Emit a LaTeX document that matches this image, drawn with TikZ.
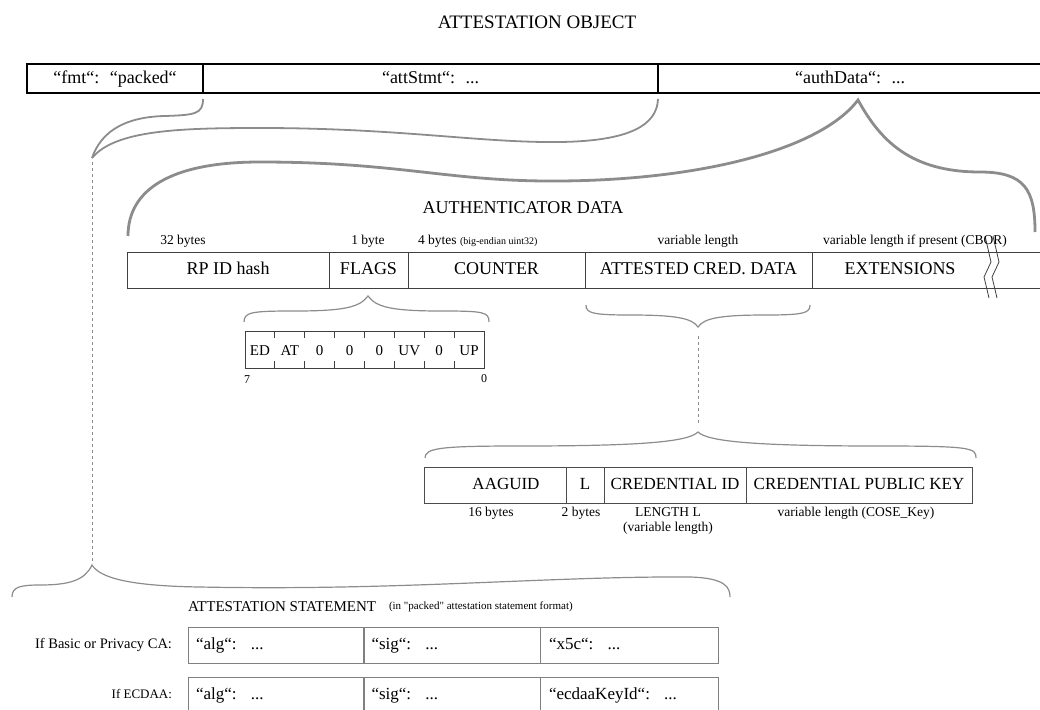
\documentclass[tikz,border=0pt]{standalone}
\usepackage{fontspec}
\setmainfont{Liberation Serif}
\usetikzlibrary{positioning}

\begin{document}
\begin{tikzpicture}[x=1pt,y=-1pt]
    \tikzstyle{every node} = [font=\fontsize{18}{21}\selectfont, inner sep=0pt, outer sep=0pt]
    \tikzstyle{objcell} = [draw=black, line width=1.6pt, rectangle, anchor=north west, minimum height=29pt, text height=12.5pt, text depth=3.5pt]
    \tikzstyle{datacell} = [draw=black!75, line width=1pt, rectangle, anchor=north west, minimum height=36pt, text height=12.5pt, text depth=3.5pt]
    \tikzstyle{credcell} = [draw=black!70, line width=0.8pt, rectangle, anchor=north west, minimum height=36pt, text height=12pt, text depth=3.5pt, font=\fontsize{17}{20}\selectfont]
    \tikzstyle{stmtcell} = [draw=black!50, line width=0.8pt, rectangle, anchor=north west, minimum height=36pt, text width=160pt, inner xsep=8pt, align=left, text height=12pt, text depth=4pt, font=\fontsize{17}{20}\selectfont]
    \tikzstyle{brace} = [draw=black!45, line width=1.4pt]
    \tikzstyle{small} = [font=\fontsize{13.5}{16}\selectfont]
    \tikzstyle{lead} = [draw=black!45, dashed, line width=0.8pt]
    \clip (0,0) rectangle (1040,709);

    % attestation object
    \node[font=\fontsize{19}{22}\selectfont] (objTitle) at (537,22) {ATTESTATION OBJECT};
    \node[objcell, minimum width=176pt] (fmt) at (27,64) {“fmt“: \ “packed“};
    \node[objcell, minimum width=455pt] (attStmt) at (203,64) {“attStmt“: \ ...};
    \node[objcell, minimum width=384pt] (authData) at (658,64) {“authData“: \ ...};

    \coordinate (stmtTip) at (92,158);
    \coordinate (authTip) at (858,100);
    \draw[brace, line width=1.8pt] ([yshift=-6pt]fmt.south east) .. controls +(0,15) and (195,115) .. (165,116)
        .. controls (120,117) and (100,135) .. (stmtTip);
    \draw[brace, line width=1.8pt] (stmtTip) .. controls (115,130) and (180,128) .. (260,128)
        .. controls (400,128) and (480,143) .. (560,142)
        .. controls (630,141) and (657,125) .. ([yshift=-6pt]attStmt.south east);
    \draw[brace, line width=2.8pt] (128,236) .. controls (128,190) and (170,162) .. (260,162)
        .. controls (400,162) and (450,182) .. (560,181)
        .. controls (700,180) and (820,150) .. (authTip)
        .. controls (880,140) and (910,172) .. (980,172)
        .. controls (1025,172) and (1035,190) .. (1035,232);

    % authenticator data
    \node (authTitle) at (523,208) {AUTHENTICATOR DATA};
    \node[datacell, minimum width=202pt] (rpHash) at (127,252) {RP ID hash};
    \node[datacell, minimum width=79pt] (flags) at (329,252) {FLAGS};
    \node[datacell, minimum width=177pt] (counter) at (408,252) {COUNTER};
    \node[datacell, minimum width=227pt] (credData) at (585,252) {ATTESTED CRED. DATA};
    \node[datacell, draw=none, minimum width=176pt] (extensions) at (812,252) {EXTENSIONS};
    \draw[draw=black!75, line width=1pt] (extensions.north west) -- (1040,252);
    \draw[draw=black!75, line width=1pt] (extensions.south west) -- (1040,288);
    \draw[draw=black!75, line width=0.8pt] (985,236) -- (991,262) -- (984,277) -- (989,298);
    \draw[draw=black!75, line width=0.8pt] (993,236) -- (999,262) -- (992,277) -- (997,298);

    \node[small] (rpSize) at (183,241) {32 bytes};
    \node[small] (flagSize) at (368,241) {1 byte};
    \node[small, anchor=west] (counterSize) at (418,241) {4 bytes {\fontsize{10}{12}\selectfont (big-endian uint32)}};
    \node[small] (credSize) at (698,241) {variable length};
    \node[small] (extSize) at (915,241) {variable length if present (CBOR)};

    % flags byte
    \coordinate (flagTip) at (368,296);
    \draw[brace, line width=1.2pt] (244,322) .. controls (244,312) and (252,311) .. (295,311)
        .. controls (345,311) and (360,307) .. (flagTip)
        .. controls (376,307) and (391,311) .. (441,311)
        .. controls (484,311) and (489,312) .. (489,322);
    \node[draw=black!75, line width=0.8pt, anchor=north west, minimum width=239pt, minimum height=37pt] (flagBox) at (245,331) {};
    \foreach \i in {1,...,7} {
        \draw[black!75, line width=0.8pt] ([xshift=\i*29.875pt]flagBox.north west) -- ++(0,7);
        \draw[black!75, line width=0.8pt] ([xshift=\i*29.875pt]flagBox.south west) -- ++(0,-7);
    }
    \foreach \lbl [count=\i] in {ED,AT,0,0,0,UV,0,UP}
        \node[font=\fontsize{15}{18}\selectfont] (bit\i) at (245+\i*29.875-14.94,351) {\lbl};
    \node[font=\fontsize{12}{14}\selectfont] (msb) at (247,380) {7};
    \node[font=\fontsize{12}{14}\selectfont] (lsb) at (484,379) {0};

    % attested credential data
    \coordinate (credTip) at (698,327);
    \coordinate (rowTip) at (698,432);
    \draw[brace, line width=1.2pt] (586,305) .. controls (586,313) and (592,315) .. (630,315)
        .. controls (675,315) and (692,318) .. (credTip)
        .. controls (704,318) and (721,315) .. (766,315)
        .. controls (804,315) and (810,313) .. (810,305);
    \draw[lead] ([yshift=-9pt]credTip) -- ([yshift=7pt]rowTip);
    \draw[brace, line width=1.2pt] (425,458) .. controls (425,448) and (440,446) .. (520,446)
        .. controls (640,446) and (688,442) .. (rowTip)
        .. controls (708,442) and (760,446) .. (880,446)
        .. controls (972,446) and (976,448) .. (976,458);

    \node[credcell, minimum width=142pt] (aaguid) at (424,467) {\hspace{22pt}AAGUID};
    \node[credcell, minimum width=38pt] (credLen) at (566,467) {L};
    \node[credcell, minimum width=142pt] (credId) at (604,467) {CREDENTIAL ID};
    \node[credcell, minimum width=226pt] (pubKey) at (746,467) {CREDENTIAL PUBLIC KEY};
    \node[small] (aaguidSize) at (491,513) {16 bytes};
    \node[small] (lenSize) at (581,513) {2 bytes};
    \node[small, align=center] (idSize) at (668,521) {LENGTH L\\[-1pt](variable length)};
    \node[small] (keySize) at (856,513) {variable length (COSE\_Key)};

    % attestation statement
    \coordinate (attTip) at (92,565);
    \draw[lead] ([yshift=-4pt]stmtTip) -- ([yshift=4pt]attTip);
    \draw[brace, line width=1.2pt] (12,597) .. controls (12,587) and (20,585) .. (40,585)
        .. controls (70,585) and (85,580) .. (attTip)
        .. controls (100,578) and (130,586) .. (200,587)
        .. controls (400,591) and (550,576) .. (690,577)
        .. controls (725,578) and (730,587) .. (730,597);
    \node[font=\fontsize{15}{18}\selectfont, anchor=west] (stmtTitle) at (188,607) {ATTESTATION STATEMENT};
    \node[font=\fontsize{11}{13}\selectfont, anchor=west] (stmtFormat) at (389,607) {(in \textquotedbl packed\textquotedbl{} attestation statement format)};

    \node[font=\fontsize{14.5}{17}\selectfont, anchor=east] (basicLbl) at (172,645) {If Basic or Privacy CA:};
    \node[stmtcell, minimum width=175pt] (basicAlg) at (188,627) {“alg“: \ ...};
    \node[stmtcell, minimum width=177pt] (basicSig) at (363,627) {“sig“: \ ...};
    \node[stmtcell, minimum width=178pt] (basicX5c) at (540,627) {“x5c“: \ ...};
    \node[font=\fontsize{13}{15}\selectfont, anchor=east] (ecdaaLbl) at (172,694) {If ECDAA:};
    \node[stmtcell, minimum width=175pt] (ecdaaAlg) at (188,677) {“alg“: \ ...};
    \node[stmtcell, minimum width=177pt] (ecdaaSig) at (363,677) {“sig“: \ ...};
    \node[stmtcell, minimum width=178pt] (ecdaaKey) at (540,677) {“ecdaaKeyId“: \ ...};
\end{tikzpicture}
\end{document}
